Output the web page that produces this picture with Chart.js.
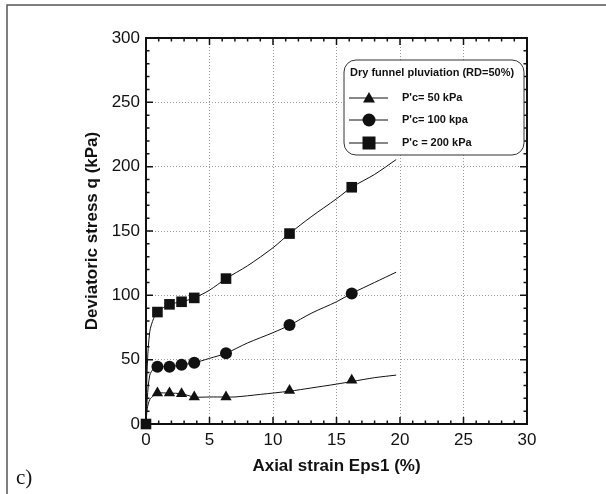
<!DOCTYPE html>
<html lang="en">
<head>
  <meta charset="UTF-8">
  <script src="https://cdn.jsdelivr.net/npm/chart.js"></script>
  <style>
    body, html {
      margin: 0;
      padding: 0;
      background: #fff;
    }
    .chart-box {
      position: relative;
      width: 606px;
      height: 494px;
    }
  </style>
</head>
<body>
  <div class="chart-box">
    <canvas id="strain-chart"></canvas>
  </div>
  <script>
    const curveStrain50 = [0, 0.1, 0.3, 0.6, 0.9, 1.85, 2.8, 3.8, 5, 6.3, 7, 9, 11.3, 13, 15, 16.2, 18, 19.7];
    const curveQ50 = [0, 12, 19, 22, 24, 24, 23.5, 21, 21, 21, 21, 23, 25.5, 28, 31, 33, 36, 38];

    const curveStrain100 = [0, 0.1, 0.3, 0.6, 0.9, 1.85, 2.8, 3.8, 5, 6.3, 8, 10, 11.35, 13, 15, 16.2, 18, 19.7];
    const curveQ100 = [0, 20, 38, 43, 44.5, 44.5, 46, 47.6, 51, 55, 63, 71, 77, 86, 95, 101.5, 110, 118];

    const curveStrain200 = [0, 0.1, 0.3, 0.6, 0.9, 1.85, 2.8, 3.8, 5, 6.3, 8, 10, 11.3, 13, 15, 16.2, 18, 19.7];
    const curveQ200 = [0, 45, 72, 82, 87, 93, 95, 98, 104, 113, 123, 137, 148, 161, 175, 184, 194, 205.5];

    // symbols
    const markStrain = [0.9, 1.85, 2.8, 3.8, 6.3, 11.3, 16.2];
    const markQ50 = [24, 24, 23.5, 21, 21, 26, 34];
    const markQ100 = [44.5, 44.5, 46, 47.6, 55, 77, 101.5];
    const markStrain200 = [0, 0.9, 1.85, 2.8, 3.8, 6.3, 11.3, 16.2];
    const markQ200 = [0, 87, 93, 95, 98, 113, 148, 184];

    const legendTitle = 'Dry funnel pluviation (RD=50%)';
    const legendLabels = ["P'c= 50 kPa", "P'c= 100 kpa", "P'c = 200 kPa"];
    const legendStyles = ['triangle', 'circle', 'rect'];

    const xTitle = 'Axial strain Eps1 (%)';
    const yTitle = 'Deviatoric stress q (kPa)';

    const toPoints = (xs, ys) => xs.map((x, i) => ({ x: x, y: ys[i] }));

    const FONT = '"Liberation Sans", Arial, sans-serif';

    function drawMarker(ctx, style, x, y) {
      ctx.beginPath();
      if (style === 'triangle') {
        ctx.moveTo(x, y - 6);
        ctx.lineTo(x + 6, y + 4.5);
        ctx.lineTo(x - 6, y + 4.5);
        ctx.closePath();
      } else if (style === 'circle') {
        ctx.arc(x, y, 6.5, 0, Math.PI * 2);
      } else {
        ctx.rect(x - 6.5, y - 6.5, 13, 13);
      }
      ctx.fill();
    }

    const decorPlugin = {
      id: 'decor',
      afterDraw(chart) {
        const ctx = chart.ctx;
        const a = chart.chartArea;
        const xs = chart.scales.x;
        const ys = chart.scales.y;
        ctx.save();

        // outer frame
        ctx.strokeStyle = '#555';
        ctx.lineWidth = 1.5;
        ctx.beginPath();
        ctx.moveTo(7, 494);
        ctx.lineTo(7, 5);
        ctx.lineTo(606, 5);
        ctx.stroke();

        // ticks pointing in, all four sides
        ctx.strokeStyle = '#111';
        ctx.lineWidth = 1.5;
        ctx.beginPath();
        for (let v = 0; v <= 30; v += 1) {
          const px = xs.getPixelForValue(v);
          const len = v % 5 === 0 ? 7 : 3.5;
          ctx.moveTo(px, a.bottom); ctx.lineTo(px, a.bottom - len);
          ctx.moveTo(px, a.top); ctx.lineTo(px, a.top + len);
        }
        for (let v = 0; v <= 300; v += 10) {
          const py = ys.getPixelForValue(v);
          const len = v % 50 === 0 ? 7 : 3.5;
          ctx.moveTo(a.left, py); ctx.lineTo(a.left + len, py);
          ctx.moveTo(a.right, py); ctx.lineTo(a.right - len, py);
        }
        ctx.stroke();

        // axis box
        ctx.lineWidth = 2;
        ctx.strokeRect(a.left, a.top, a.right - a.left, a.bottom - a.top);

        // axis titles
        ctx.fillStyle = '#111';
        ctx.font = 'bold 17px ' + FONT;
        ctx.textAlign = 'center';
        ctx.textBaseline = 'middle';
        ctx.fillText(xTitle, (a.left + a.right) / 2, 466);
        ctx.save();
        ctx.translate(92, (a.top + a.bottom) / 2);
        ctx.rotate(-Math.PI / 2);
        ctx.fillText(yTitle, 0, 0);
        ctx.restore();

        // panel label
        ctx.font = '21px "Liberation Serif", "DejaVu Serif", serif';
        ctx.textAlign = 'left';
        ctx.textBaseline = 'alphabetic';
        ctx.fillText('c)', 16, 484);

        // legend box
        const lx = 344, ly = 60, lw = 180, lh = 95, r = 12;
        ctx.fillStyle = '#fff';
        ctx.strokeStyle = '#333';
        ctx.lineWidth = 1;
        ctx.beginPath();
        ctx.moveTo(lx + r, ly);
        ctx.arcTo(lx + lw, ly, lx + lw, ly + lh, r);
        ctx.arcTo(lx + lw, ly + lh, lx, ly + lh, r);
        ctx.arcTo(lx, ly + lh, lx, ly, r);
        ctx.arcTo(lx, ly, lx + lw, ly, r);
        ctx.closePath();
        ctx.fill();
        ctx.stroke();

        ctx.fillStyle = '#111';
        ctx.font = 'bold 11px ' + FONT;
        ctx.textBaseline = 'middle';
        ctx.fillText(legendTitle, 350, 73);
        const rowY = [98, 120, 143];
        legendLabels.forEach((lab, i) => {
          ctx.strokeStyle = '#111';
          ctx.lineWidth = 1;
          ctx.beginPath();
          ctx.moveTo(349, rowY[i]);
          ctx.lineTo(388, rowY[i]);
          ctx.stroke();
          drawMarker(ctx, legendStyles[i], 369, rowY[i]);
          ctx.fillText(lab, 402, rowY[i]);
        });

        ctx.restore();
      }
    };

    const lineStyle = {
      showLine: true,
      borderColor: '#111',
      borderWidth: 1,
      pointRadius: 0,
      tension: 0.3,
      fill: false
    };
    const markStyle = {
      showLine: false,
      backgroundColor: '#111',
      borderColor: '#111',
      borderWidth: 0,
      clip: false
    };

    new Chart(document.getElementById('strain-chart'), {
      type: 'scatter',
      data: {
        datasets: [
          Object.assign({ data: toPoints(markStrain200, markQ200), pointStyle: 'rect', pointRadius: 7.5 }, markStyle),
          Object.assign({ data: toPoints(markStrain, markQ100), pointStyle: 'circle', pointRadius: 6 }, markStyle),
          Object.assign({ data: toPoints(markStrain, markQ50), pointStyle: 'triangle', pointRadius: 6.5 }, markStyle),
          Object.assign({ data: toPoints(curveStrain200, curveQ200) }, lineStyle),
          Object.assign({ data: toPoints(curveStrain100, curveQ100) }, lineStyle),
          Object.assign({ data: toPoints(curveStrain50, curveQ50) }, lineStyle)
        ]
      },
      plugins: [decorPlugin],
      options: {
        responsive: true,
        maintainAspectRatio: false,
        animation: false,
        layout: { padding: { left: 0, top: 38, right: 79, bottom: 0 } },
        plugins: {
          legend: { display: false },
          tooltip: { enabled: false }
        },
        scales: {
          x: {
            type: 'linear',
            min: 0,
            max: 30,
            afterFit: s => { s.height = 70; },
            ticks: { stepSize: 5, padding: 6, color: '#111', font: { family: FONT, size: 17 } },
            grid: { color: '#999', lineWidth: 1, drawTicks: false },
            border: { display: false, dash: [1, 2] }
          },
          y: {
            type: 'linear',
            min: 0,
            max: 300,
            afterFit: s => { s.width = 146; },
            ticks: { stepSize: 50, padding: 6, color: '#111', font: { family: FONT, size: 17 } },
            grid: { color: '#999', lineWidth: 1, drawTicks: false },
            border: { display: false, dash: [1, 2] }
          }
        }
      }
    });
  </script>
</body>
</html>
